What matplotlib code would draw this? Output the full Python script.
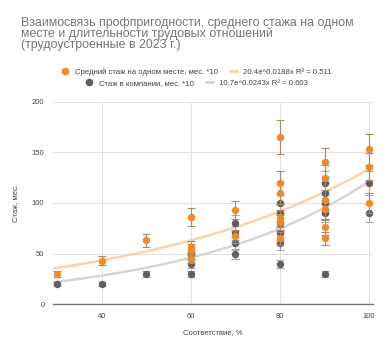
import numpy as np
import matplotlib
matplotlib.use("Agg")
import matplotlib.pyplot as plt
from matplotlib.lines import Line2D

plt.rcParams['font.family'] = ['Liberation Sans', 'DejaVu Sans']

# x = соответствие, %
avg_x = [30, 40, 50, 60, 60, 60, 60, 70, 70,
         80, 80, 80, 80, 80, 80,
         90, 90, 90, 90, 90, 90,
         100, 100, 100]
avg_y = [30, 43, 63, 86, 57, 54, 45, 93, 67,
         165, 120, 110, 85, 81, 65,
         140, 125, 103, 94, 76, 65,
         153, 136, 100]

comp_x = [30, 40, 50, 60, 60, 60, 70, 70, 70, 70,
          80, 80, 80, 80, 80, 80,
          90, 90, 90, 90, 90,
          100, 100]
comp_y = [20, 20, 30, 50, 40, 30, 80, 70, 60, 50,
          100, 90, 80, 70, 60, 40,
          120, 110, 100, 90, 30,
          120, 90]

# exponential trend lines (a * e^(b*x)), as given in the legend
avg_trend = (20.4, 0.0188)
comp_trend = (10.7, 0.0243)
avg_label = "Средний стаж на одном месте, мес. *10"
comp_label = "Стаж в компании, мес. *10"
avg_trend_label = "20.4e^0.0188x R² = 0.511"
comp_trend_label = "10.7e^0.0243x R² = 0.603"

ORANGE = "#ee8c2b"
ORANGE_ERR = "#b3875f"
ORANGE_TREND = "#fbd3a8"
GRAY = "#5f5f5f"
GRAY_ERR = "#a8a8a8"
GRAY_TREND = "#d6d6d6"
TEXT = "#444444"

fig = plt.figure(figsize=(3.89, 3.53), dpi=100)
ax = fig.add_axes([0.1355, 0.138, 0.8225, 0.574])

xs = np.linspace(29, 100, 200)
ax.plot(xs, comp_trend[0] * np.exp(comp_trend[1] * xs), color=GRAY_TREND, lw=1.8, zorder=2)
ax.plot(xs, avg_trend[0] * np.exp(avg_trend[1] * xs), color=ORANGE_TREND, lw=1.8, zorder=2)

cy = np.array(comp_y, dtype=float)
ax.errorbar(comp_x, cy, yerr=cy * 0.1, fmt='o', color=GRAY, ms=4.3, mec=GRAY,
            ecolor=GRAY_ERR, elinewidth=0.8, capsize=3, capthick=0.8, zorder=3)
ay = np.array(avg_y, dtype=float)
ax.errorbar(avg_x, ay, yerr=ay * 0.1, fmt='o', color=ORANGE, ms=4.3, mec=ORANGE,
            ecolor=ORANGE_ERR, elinewidth=0.8, capsize=3, capthick=0.8, zorder=4)

ax.set_xlim(29, 100.8)
ax.set_ylim(0, 200)
ax.set_xticks([40, 60, 80, 100])
ax.set_yticks([0, 50, 100, 150, 200])
ax.grid(True, color="#e2e2e2", lw=0.8, zorder=0)
ax.set_axisbelow(True)
for s in ["top", "right", "left"]:
    ax.spines[s].set_visible(False)
ax.spines["bottom"].set_color("#777777")
ax.spines["bottom"].set_linewidth(1.0)
ax.tick_params(length=0, labelsize=5.5, labelcolor=TEXT, pad=6)
ax.set_xlabel("Соответствие, %", fontsize=5.5, color=TEXT, labelpad=7)
ax.set_ylabel("Стаж, мес.", fontsize=5.5, color=TEXT, labelpad=9)

fig.text(0.054, 0.953, "Взаимосвязь профпригодности, среднего стажа на одном\n"
         "месте и длительности трудовых отношений\n(трудоустроенные в 2023 г.)",
         fontsize=8.9, color="#757575", va="top", ha="left", linespacing=0.86)

row1 = [Line2D([], [], marker='o', ls='none', color=ORANGE, ms=4.5),
        Line2D([], [], color=ORANGE_TREND, lw=2)]
row2 = [Line2D([], [], marker='o', ls='none', color=GRAY, ms=4.5),
        Line2D([], [], color=GRAY_TREND, lw=2)]
for handles, labels, y in [(row1, [avg_label, avg_trend_label], 0.796),
                           (row2, [comp_label, comp_trend_label], 0.765)]:
    fig.legend(handles, labels, ncol=2, loc="center", bbox_to_anchor=(0.506, y),
               frameon=False, fontsize=5.6, handlelength=0.9, handletextpad=0.8,
               columnspacing=1.5, labelcolor=TEXT, borderpad=0, borderaxespad=0)

fig.savefig("out.png", dpi=100)
